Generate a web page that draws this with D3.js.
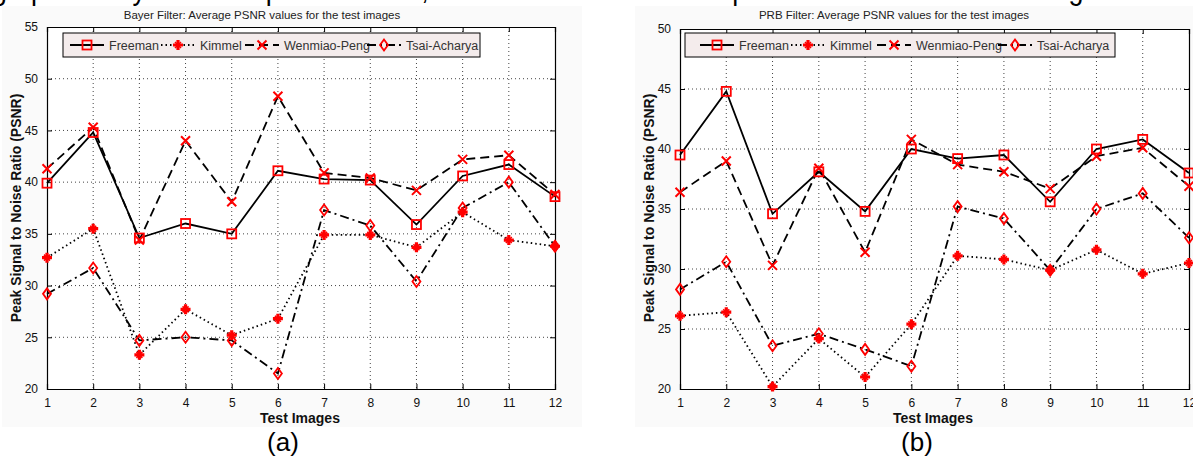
<!DOCTYPE html>
<html><head><meta charset="utf-8">
<script src="https://cdn.jsdelivr.net/npm/d3@7"></script>
<style>body{margin:0;background:#fff}svg{display:block}text{font-family:"Liberation Sans",Arial,sans-serif}</style>
</head><body>
<svg id="c" width="1193" height="457"></svg>
<script>
const images = [1,2,3,4,5,6,7,8,9,10,11,12];
const seriesNames = ["Freeman","Kimmel","Wenmiao-Peng","Tsai-Acharya"];
// Bayer filter (a)
const bayerFreeman = [39.9,44.8,34.6,36.0,35.0,41.1,40.3,40.2,35.9,40.6,41.7,38.6];
const bayerKimmel  = [32.7,35.5,23.3,27.7,25.2,26.8,34.9,34.9,33.7,37.1,34.4,33.8];
const bayerWenmiao = [41.3,45.3,34.4,44.0,38.1,48.3,40.9,40.4,39.2,42.2,42.6,38.8];
const bayerTsai    = [29.2,31.7,24.7,25.0,24.7,21.5,37.3,35.8,30.4,37.5,40.0,33.8];
// PRB filter (b)
const prbFreeman = [39.5,44.8,34.6,38.1,34.8,40.0,39.2,39.5,35.6,40.0,40.8,38.0];
const prbKimmel  = [26.1,26.4,20.2,24.2,21.0,25.4,31.1,30.8,29.9,31.6,29.6,30.5];
const prbWenmiao = [36.4,39.0,30.3,38.4,31.4,40.8,38.7,38.1,36.7,39.4,40.1,36.9];
const prbTsai    = [28.3,30.6,23.6,24.6,23.3,21.9,35.2,34.2,29.9,35.0,36.3,32.6];
const bayerTicks = [20,25,30,35,40,45,50,55];
const prbTicks = [20,25,30,35,40,45,50];
const titles = ["Bayer Filter: Average PSNR values for the test images","PRB Filter: Average PSNR values for the test images"];
const yLabel = "Peak Signal to Noise Ratio (PSNR)";
const xLabel = "Test Images";
const captions = ["(a)","(b)"];
const topText = "graph clearly shows superior results, as can be seen from the performance for the test images";

const svg = d3.select("#c");
svg.append("text").attr("x",-8).attr("y",-1).attr("font-size",32)
  .attr("textLength",1120).attr("lengthAdjust","spacingAndGlyphs").attr("fill","#000").text(topText);

const styles = [
  {dash:null, marker:"square"},
  {dash:"1.5,3", marker:"plus"},
  {dash:"9,5", marker:"x"},
  {dash:"9,4,2,4", marker:"diamond"}
];

function marker(g, type, x, y){
  if(type==="square"){
    g.append("rect").attr("x",x-4.5).attr("y",y-4.5).attr("width",9).attr("height",9)
      .attr("fill","none").attr("stroke","#f00").attr("stroke-width",1.8);
  } else if(type==="plus"){
    g.append("path").attr("d",`M${x-5},${y}H${x+5}M${x},${y-5}V${y+5}`)
      .attr("stroke","#f00").attr("stroke-width",3.2);
    g.append("path").attr("d",`M${x-3},${y-3}L${x+3},${y+3}M${x-3},${y+3}L${x+3},${y-3}`)
      .attr("stroke","#f00").attr("stroke-width",1.5);
  } else if(type==="x"){
    g.append("path").attr("d",`M${x-4.5},${y-4.5}L${x+4.5},${y+4.5}M${x-4.5},${y+4.5}L${x+4.5},${y-4.5}`)
      .attr("stroke","#f00").attr("stroke-width",2);
  } else {
    g.append("path").attr("d",`M${x},${y-5.5}L${x+4},${y}L${x},${y+5.5}L${x-4},${y}Z`)
      .attr("fill","none").attr("stroke","#f00").attr("stroke-width",1.8);
  }
}

function panel(cfg){
  const g = svg.append("g");
  g.append("rect").attr("x",cfg.bgX).attr("y",6).attr("width",cfg.bgW).attr("height",421).attr("fill","#fafafa");
  const x = d3.scaleLinear().domain([1,12]).range([cfg.x0,cfg.x1]);
  const y = d3.scaleLinear().domain([20,cfg.ymax]).range([389,cfg.yTop]);
  g.append("rect").attr("x",cfg.x0).attr("y",cfg.yTop).attr("width",cfg.x1-cfg.x0).attr("height",389-cfg.yTop).attr("fill","#fff");
  // grid
  const grid = g.append("g").attr("stroke","#444").attr("stroke-width",1).attr("stroke-dasharray","1,3");
  images.slice(1,-1).forEach(v=>grid.append("line").attr("x1",x(v)).attr("x2",x(v)).attr("y1",cfg.yTop).attr("y2",389));
  cfg.ticks.slice(1,-1).forEach(v=>grid.append("line").attr("x1",cfg.x0).attr("x2",cfg.x1).attr("y1",y(v)).attr("y2",y(v)));
  // axes
  const ax = g.append("g").attr("transform","translate(0,389)").call(d3.axisBottom(x).tickValues(images).tickSize(-5).tickPadding(9).tickFormat(d3.format("d")));
  const ay = g.append("g").attr("transform",`translate(${cfg.x0},0)`).call(d3.axisLeft(y).tickValues(cfg.ticks).tickSize(-5).tickPadding(9));
  const at = g.append("g").attr("transform",`translate(0,${cfg.yTop})`).call(d3.axisTop(x).tickValues(images).tickSize(-5).tickFormat(""));
  const ar = g.append("g").attr("transform",`translate(${cfg.x1},0)`).call(d3.axisRight(y).tickValues(cfg.ticks).tickSize(-5).tickFormat(""));
  [ax,ay,at,ar].forEach(a=>{a.selectAll("path").attr("stroke","#000").attr("stroke-width",1.2);
    a.selectAll("line").attr("stroke","#000");
    a.selectAll("text").attr("font-size",12).attr("fill","#111").attr("font-family","Liberation Sans, Arial, sans-serif");});
  // lines
  const line = d3.line().x((d,i)=>x(images[i])).y(d=>y(d));
  cfg.data.forEach((arr,k)=>{
    g.append("path").attr("d",line(arr)).attr("fill","none").attr("stroke","#000").attr("stroke-width",1.8)
      .attr("stroke-dasharray",styles[k].dash);
  });
  cfg.data.forEach((arr,k)=>{
    const mg = g.append("g");
    arr.forEach((v,i)=>marker(mg,styles[k].marker,x(images[i]),y(v)));
  });
  // legend
  const L = cfg.legend;
  g.append("rect").attr("x",L.x).attr("y",33).attr("width",L.w).attr("height",24)
    .attr("fill","#f4ecec").attr("stroke","#000").attr("stroke-width",1);
  seriesNames.forEach((n,k)=>{
    const ex = L.items[k];
    g.append("line").attr("x1",ex-17).attr("x2",ex+17).attr("y1",45).attr("y2",45)
      .attr("stroke","#000").attr("stroke-width",1.8).attr("stroke-dasharray",styles[k].dash);
    marker(g,styles[k].marker,ex,45);
    g.append("text").attr("x",ex+22).attr("y",49.5).attr("font-size",12.5).attr("fill","#333").text(n);
  });
  // texts
  g.append("text").attr("x",cfg.titleX).attr("y",19).attr("text-anchor","middle").attr("font-size",11.5).attr("fill","#222").text(cfg.title);
  g.append("text").attr("transform",`translate(${cfg.ylabX},208) rotate(-90)`).attr("text-anchor","middle")
    .attr("font-size",14).attr("font-weight","bold").attr("fill","#111").text(yLabel);
  g.append("text").attr("x",cfg.xlabX).attr("y",423).attr("text-anchor","middle").attr("font-size",14).attr("font-weight","bold").attr("fill","#111").text(xLabel);
  g.append("text").attr("x",cfg.capX).attr("y",451).attr("text-anchor","middle").attr("font-size",26).attr("fill","#000").text(cfg.cap);
}

panel({x0:47,x1:555,yTop:27,ymax:55,ticks:bayerTicks,data:[bayerFreeman,bayerKimmel,bayerWenmiao,bayerTsai],
  legend:{x:63,w:417,items:[87,178,262,384]},title:titles[0],titleX:262,ylabX:21,xlabX:300,capX:283,cap:captions[0],bgX:2,bgW:580});
panel({x0:680,x1:1189,yTop:29,ymax:50,ticks:prbTicks,data:[prbFreeman,prbKimmel,prbWenmiao,prbTsai],
  legend:{x:685,w:430,items:[717,808,894,1015]},title:titles[1],titleX:894,ylabX:654,xlabX:933,capX:917,cap:captions[1],bgX:635,bgW:558});
</script>
</body></html>
